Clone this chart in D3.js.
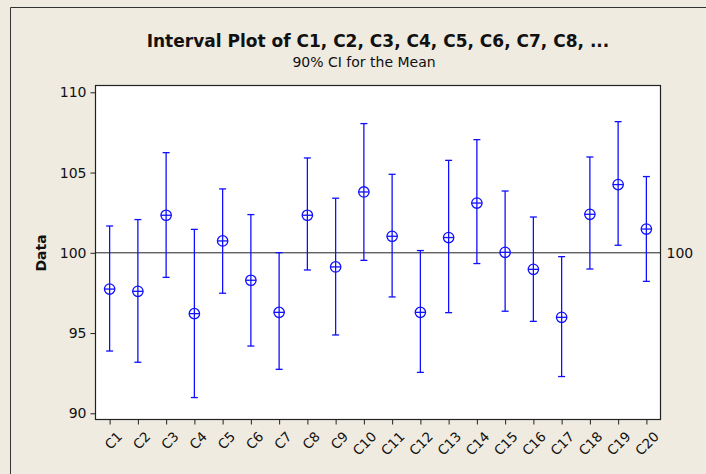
<!DOCTYPE html>
<html>
<head>
<meta charset="utf-8">
<script src="https://cdn.jsdelivr.net/npm/d3@7"></script>
<style>
  body { margin: 0; background: #efebe0; }
  svg { display: block; }
  text { font-family: Tahoma, "DejaVu Sans", sans-serif; }
</style>
</head>
<body>
<svg id="chart" width="706" height="474"></svg>
<script>
// 各列名称
const columns = ['C1','C2','C3','C4','C5','C6','C7','C8','C9','C10',
                 'C11','C12','C13','C14','C15','C16','C17','C18','C19','C20'];
// 均值
const means = [97.74, 97.6, 102.34, 96.21, 100.74, 98.29, 96.29, 102.34, 99.12, 103.79,
               101.03, 96.29, 100.95, 103.1, 100.03, 98.97, 95.98, 102.4, 104.25, 101.48];
// 90% 置信区间上下限
const upper = [101.67, 102.07, 106.24, 101.46, 103.98, 102.38, 100.01, 105.91, 103.4, 108.05,
               104.89, 100.14, 105.76, 107.05, 103.85, 102.23, 99.76, 105.97, 108.17, 104.75];
const lower = [93.88, 93.18, 98.47, 90.98, 97.48, 94.19, 92.74, 98.93, 94.88, 99.53,
               97.25, 92.55, 96.27, 99.33, 96.36, 95.73, 92.29, 98.99, 100.47, 98.22];
const yTicks = [90, 95, 100, 105, 110];
const refValue = 100;

const svg = d3.select('#chart');
const blue = '#1010ff';
const font = 'Tahoma, "DejaVu Sans", sans-serif';

// 外框
svg.append('path')
    .attr('d', 'M10.5,474 L10.5,7.5 L706,7.5')
    .attr('fill', 'none')
    .attr('stroke', '#333')
    .attr('stroke-width', 1);

const plot = { left: 95.5, top: 85.5, right: 660.5, bottom: 419.5 };

const x = d3.scalePoint()
    .domain(columns)
    .range([plot.left, plot.right])
    .padding(0.5);

const y = d3.scaleLinear()
    .domain([90, 110])
    .range([413.3, 92.3]);

// 绘图区
svg.append('rect')
    .attr('x', plot.left).attr('y', plot.top)
    .attr('width', plot.right - plot.left)
    .attr('height', plot.bottom - plot.top)
    .attr('fill', '#fff')
    .attr('stroke', '#222')
    .attr('stroke-width', 1.2);

// Y轴
const yAxis = svg.append('g')
    .attr('transform', `translate(${plot.left},0)`)
    .call(d3.axisLeft(y).tickValues(yTicks).tickSize(5).tickPadding(4).tickFormat(d3.format('d')));
yAxis.attr('font-size', null).attr('font-family', null);
yAxis.select('.domain').remove();
yAxis.selectAll('line').attr('stroke', '#222');
yAxis.selectAll('text').style('font-size', '14px').attr('fill', '#111')
    .style('font-family', font);

// X轴
const xAxis = svg.append('g')
    .attr('transform', `translate(0,${plot.bottom})`)
    .call(d3.axisBottom(x).tickSize(5).tickPadding(3));
xAxis.attr('font-size', null).attr('font-family', null);
xAxis.select('.domain').remove();
xAxis.selectAll('line').attr('stroke', '#222');
xAxis.selectAll('text')
    .style('font-size', '13.5px')
    .attr('fill', '#111')
    .style('font-family', font)
    .attr('text-anchor', 'end')
    .attr('dy', '0.35em')
    .attr('transform', 'translate(4,9) rotate(-45)');

// 参考线
svg.append('line')
    .attr('x1', plot.left).attr('x2', plot.right)
    .attr('y1', y(refValue)).attr('y2', y(refValue))
    .attr('stroke', '#222').attr('stroke-width', 1);
svg.append('text')
    .attr('x', plot.right + 6).attr('y', y(refValue))
    .attr('dy', '0.35em')
    .style('font-size', '14px').attr('fill', '#111')
    .text(refValue);

// 区间
const data = columns.map((c, i) => ({ name: c, mean: means[i], hi: upper[i], lo: lower[i] }));
const g = svg.append('g').attr('stroke', blue).attr('fill', 'none').attr('stroke-width', 1.3);
const item = g.selectAll('g').data(data).join('g')
    .attr('transform', d => `translate(${x(d.name)},0)`);

item.append('line')
    .attr('y1', d => y(d.hi)).attr('y2', d => y(d.lo));
item.append('line')
    .attr('x1', -3.5).attr('x2', 3.5)
    .attr('y1', d => y(d.hi)).attr('y2', d => y(d.hi));
item.append('line')
    .attr('x1', -3.5).attr('x2', 3.5)
    .attr('y1', d => y(d.lo)).attr('y2', d => y(d.lo));
item.append('circle')
    .attr('cy', d => y(d.mean)).attr('r', 5.2)
    .attr('fill', '#fff');
item.append('line')
    .attr('x1', -5.2).attr('x2', 5.2)
    .attr('y1', d => y(d.mean)).attr('y2', d => y(d.mean));
item.append('line')
    .attr('y1', d => y(d.mean) - 5.2).attr('y2', d => y(d.mean) + 5.2);

// 标题
svg.append('text')
    .attr('x', 378).attr('y', 47)
    .attr('text-anchor', 'middle')
    .style('font-size', '17px').attr('font-weight', 'bold').attr('fill', '#111')
    .text('Interval Plot of C1, C2, C3, C4, C5, C6, C7, C8, ...');
svg.append('text')
    .attr('x', 364).attr('y', 67)
    .attr('text-anchor', 'middle')
    .style('font-size', '14px').attr('fill', '#111')
    .text('90% CI for the Mean');

// Y轴标题
svg.append('text')
    .attr('transform', 'translate(46,253) rotate(-90)')
    .attr('text-anchor', 'middle')
    .style('font-size', '14px').attr('font-weight', 'bold').attr('fill', '#111')
    .text('Data');
</script>
</body>
</html>
